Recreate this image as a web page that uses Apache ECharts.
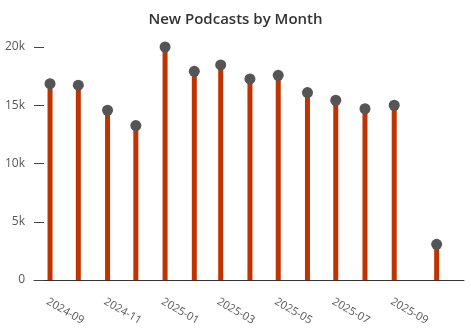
<!DOCTYPE html>
<html>
<head>
<meta charset="utf-8">
<script src="https://cdn.jsdelivr.net/npm/echarts@6/dist/echarts.min.js"></script>
<style>html,body{margin:0;padding:0;background:#fff}#c{width:471px;height:335px}</style>
</head>
<body>
<div id="c"></div>
<script>
// Data (dates are month starts; last point is a partial month mid-October)
const dates = ['2024-09-01','2024-10-01','2024-11-01','2024-12-01','2025-01-01','2025-02-01','2025-03-01','2025-04-01','2025-05-01','2025-06-01','2025-07-01','2025-08-01','2025-09-01','2025-10-16'];
const values = [16850, 16720, 14570, 13260, 20000, 17910, 18460, 17260, 17570, 16090, 15430, 14700, 15000, 3060];
const tickDates = ['2024-09-01','2024-11-01','2025-01-01','2025-03-01','2025-05-01','2025-07-01','2025-09-01'];
const axisStart = '2024-08-15';
const axisEnd = '2025-11-14';

function toTs(s){ const p = s.split('-').map(Number); return Date.UTC(p[0], p[1]-1, p[2]); }
function pad(n){ return (n<10?'0':'')+n; }

const pts = dates.map((d,i)=>[toTs(d), values[i]]);

const chart = echarts.init(document.getElementById('c'));
chart.setOption({
  animation:false,
  title:{text:'New Podcasts by Month', left:'center', top:7,
    textStyle:{fontFamily:'Open Sans', fontSize:15, fontWeight:600, color:'#333'}},
  grid:{left:34, right:7, top:47, bottom:55},
  xAxis:{
    type:'value', min:toTs(axisStart), max:toTs(axisEnd),
    axisLine:{show:true, lineStyle:{color:'#333', width:1}},
    axisTick:{show:false},
    splitLine:{show:false},
    axisLabel:{
      customValues: tickDates.map(toTs),
      rotate:-30, margin:16, verticalAlign:'top', color:'#555', fontFamily:'Open Sans', fontSize:11,
      formatter:function(v){ const d=new Date(v); return d.getUTCFullYear()+'-'+pad(d.getUTCMonth()+1); }
    }
  },
  yAxis:{
    type:'value', min:0, max:20000, interval:5000,
    axisLine:{show:false},
    axisTick:{show:true, inside:true, length:10, lineStyle:{color:'#444'}},
    splitLine:{show:false},
    axisLabel:{color:'#555', fontFamily:'Open Sans', fontSize:12, margin:9,
      formatter:function(v){ return v===0?'0':(v/1000)+'k'; }}
  },
  series:[
    {type:'bar', data:pts, barWidth:5, itemStyle:{color:'#bf3300'}, z:2},
    {type:'scatter', data:pts, symbolSize:11, itemStyle:{color:'#555', opacity:1}, z:3}
  ]
});
</script>
</body>
</html>
